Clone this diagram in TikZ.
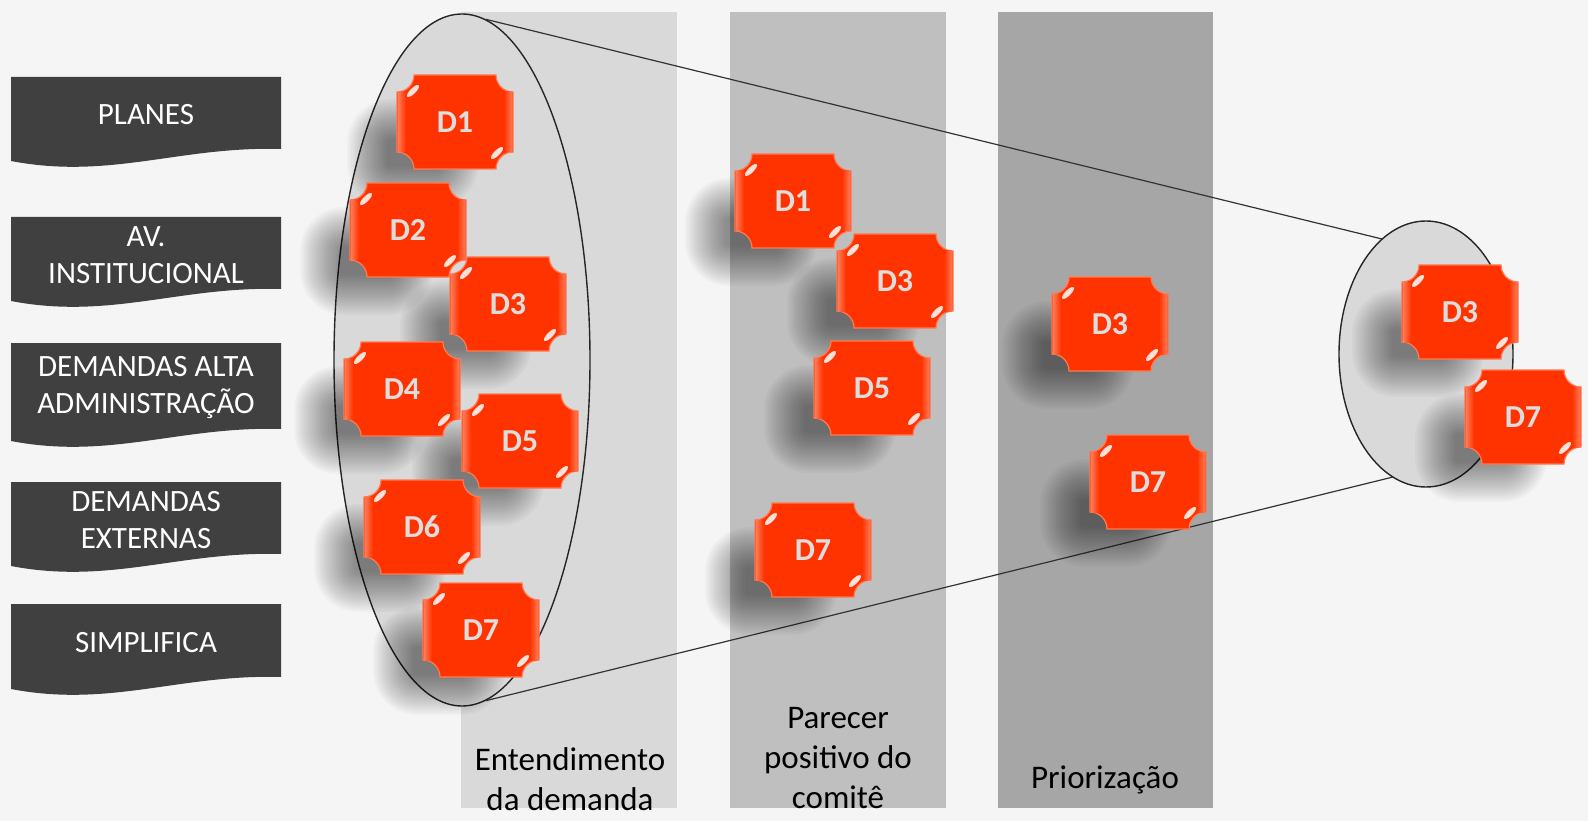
\documentclass[tikz,border=0pt]{standalone}
\usepackage{fontspec}
\setmainfont{Carlito}
\usetikzlibrary{shapes.geometric}
\definecolor{fundo}{HTML}{F5F5F5}
\definecolor{escuro}{HTML}{404040}
\definecolor{faixaA}{HTML}{D9D9D9}
\definecolor{faixaB}{HTML}{BFBFBF}
\definecolor{faixaC}{HTML}{A6A6A6}
\definecolor{laranja}{HTML}{FF3300}
\definecolor{laranjaclaro}{HTML}{FF7A55}
\definecolor{textoclaro}{HTML}{DDDDDD}
\tikzset{
  origem/.style={fill=escuro},
  origemtexto/.style={text=white, align=center, font=\fontsize{31}{37}\selectfont},
  etapa/.style={text=black, align=center, font=\fontsize{33}{40}\selectfont},
  funil/.style={ellipse, draw=black!85, line width=1.4pt, fill=faixaA, inner sep=0pt},
  rotulo/.style={text=textoclaro, font=\bfseries\fontsize{32}{38}\selectfont},
  sombra/.style={fill=black, opacity=.025},
}
\begin{document}
\begin{tikzpicture}[x=1pt,y=1pt]
  \newcommand{\placa}[2]{%
    \fill[laranja, draw=laranjaclaro, line width=1.2pt] (#1,-#2) ++(-41,47) -- ++(82,0)
      arc[start angle=180,end angle=270,radius=17] -- ++(0,-60)
      arc[start angle=90,end angle=180,radius=17] -- ++(-82,0)
      arc[start angle=0,end angle=90,radius=17] -- ++(0,60)
      arc[start angle=270,end angle=360,radius=17] -- cycle;
    \shade[left color=laranjaclaro, right color=laranja] (#1-57,-#2+30) rectangle (#1-49,-#2-30);
    \shade[left color=laranja, right color=laranjaclaro] (#1+49,-#2+30) rectangle (#1+57,-#2-30);
    \fill[white, opacity=.85, rotate around={45:(#1-42,-#2+31)}] (#1-42,-#2+31) ellipse (8 and 2.8);
    \fill[white, opacity=.85, rotate around={45:(#1+42,-#2-31)}] (#1+42,-#2-31) ellipse (8 and 2.8);
  }
  \fill[fundo] (0,0) rectangle (1588,-821);
  \useasboundingbox (0,0) rectangle (1588,-821);
  % faixas das etapas
  \fill[faixaA] (461,-12) rectangle (677,-808);
  \fill[faixaB] (730,-12) rectangle (946,-808);
  \fill[faixaC] (998,-12) rectangle (1213,-808);
  % origens das demandas
  \foreach \n/\topo/\h/\t in {planes/77/72/PLANES, av/217/72/{AV.\\INSTITUCIONAL},
      alta/343/86/{DEMANDAS ALTA\\ADMINISTRAÇÃO}, externas/482/72/{DEMANDAS\\EXTERNAS},
      simplifica/604/73/SIMPLIFICA}
  {
    \fill[origem] (11,-\topo) -- (281,-\topo) -- (281,-\topo-\h)
      .. controls (180,-\topo-\h+3) and (110,-\topo-\h-31) .. (11,-\topo-\h-12) -- cycle;
    \node[origemtexto] (\n) at (146,-\topo-\h/2-2) {\t};
  }
  % funil
  \node[funil, minimum width=256pt, minimum height=692pt] (entrada) at (462,-360) {};
  \draw[black!80, line width=1.2pt] (entrada.86) -- (1382,-239) coordinate (topo);
  \draw[black!80, line width=1.2pt] (entrada.274) -- (1393,-477) coordinate (base);
  \node[funil, minimum width=174pt, minimum height=266pt] (saida) at (1426,-354) {};
  % etapas
  \node[etapa] (entendimento) at (570,-779) {Entendimento\\da demanda};
  \node[etapa] (parecer) at (838,-758) {Parecer\\positivo do\\comitê};
  \node[etapa] (priorizacao) at (1105,-780) {Priorização};
  % demandas
  \newcommand{\demandas}{c1d1/455/122/D1, c1d2/408/230/D2, c1d3/508/304/D3, c1d4/402/389/D4,
    c1d5/520/441/D5, c1d6/422/527/D6, c1d7/481/630/D7, c2d1/793/201/D1, c2d3/895/281/D3,
    c2d5/872/388/D5, c2d7/813/550/D7, c3d3/1110/324/D3, c3d7/1148/482/D7,
    c4d3/1460/312/D3, c4d7/1523/417/D7}
  \foreach \n/\x/\y/\t in \demandas
    \foreach \s in {0,2,...,40}
      \fill[sombra, rounded corners=\s+4] (\x-68-\s,-\y-17+\s) rectangle (\x-16+\s,-\y-45-\s);
  \foreach \n/\x/\y/\t in \demandas
  {
    \placa{\x}{\y}
    \node[rotulo] (\n) at (\x,-\y) {\t};
  }
\end{tikzpicture}
\end{document}
